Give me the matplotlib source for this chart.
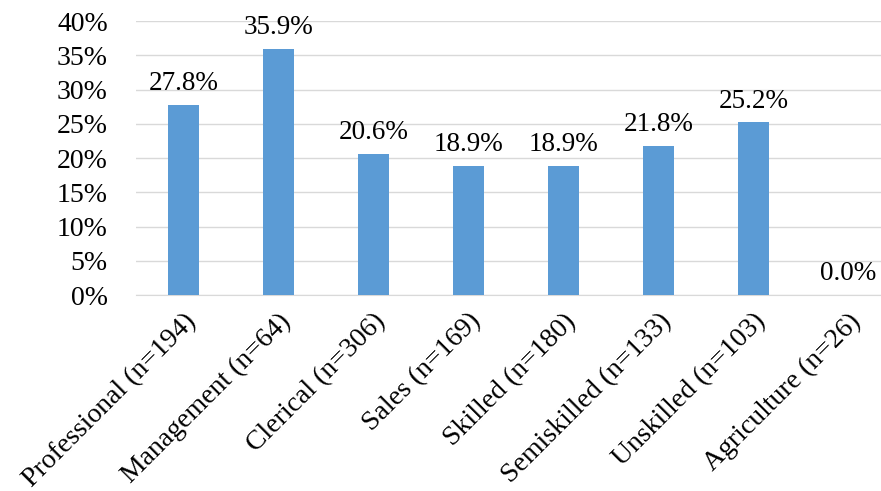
import numpy as np
import matplotlib
matplotlib.use('Agg')
import matplotlib.pyplot as plt
from matplotlib.ticker import PercentFormatter

# Chart data
categories = ['Professional (n=194)', 'Management (n=64)', 'Clerical (n=306)',
              'Sales (n=169)', 'Skilled (n=180)', 'Semiskilled (n=133)',
              'Unskilled (n=103)', 'Agriculture (n=26)']
values = [27.8, 35.9, 20.6, 18.9, 18.9, 21.8, 25.2, 0.0]

plt.rcParams['font.family'] = ['Liberation Serif', 'DejaVu Serif']

fig = plt.figure(figsize=(8.81, 4.91), dpi=100)
ax = fig.add_axes([0.154, 0.399, 0.863, 0.558])

x = np.arange(len(categories))
ax.bar(x, values, width=0.33, color='#5B9BD5', zorder=3)

for xi, v in zip(x, values):
    ax.text(xi, v + 1.3, f'{v:.1f}%', ha='center', va='bottom', fontsize=19.5)

ax.set_xlim(-0.5, len(categories) - 0.5)
ax.set_ylim(0, 40)
ax.set_yticks(np.arange(0, 41, 5))
ax.yaxis.set_major_formatter(PercentFormatter(decimals=0))
ax.grid(axis='y', color='#D9D9D9', linewidth=1, zorder=0)

ax.set_xticks(x)
ax.set_xticklabels(categories, rotation=45, ha='right', rotation_mode='anchor', fontsize=20)
ax.tick_params(axis='both', length=0, labelsize=20)
ax.tick_params(axis='x', pad=10)
ax.tick_params(axis='y', pad=20)

for s in ['top', 'right', 'left']:
    ax.spines[s].set_visible(False)
ax.spines['bottom'].set_color('#D9D9D9')

fig.savefig('out.png', dpi=100)
